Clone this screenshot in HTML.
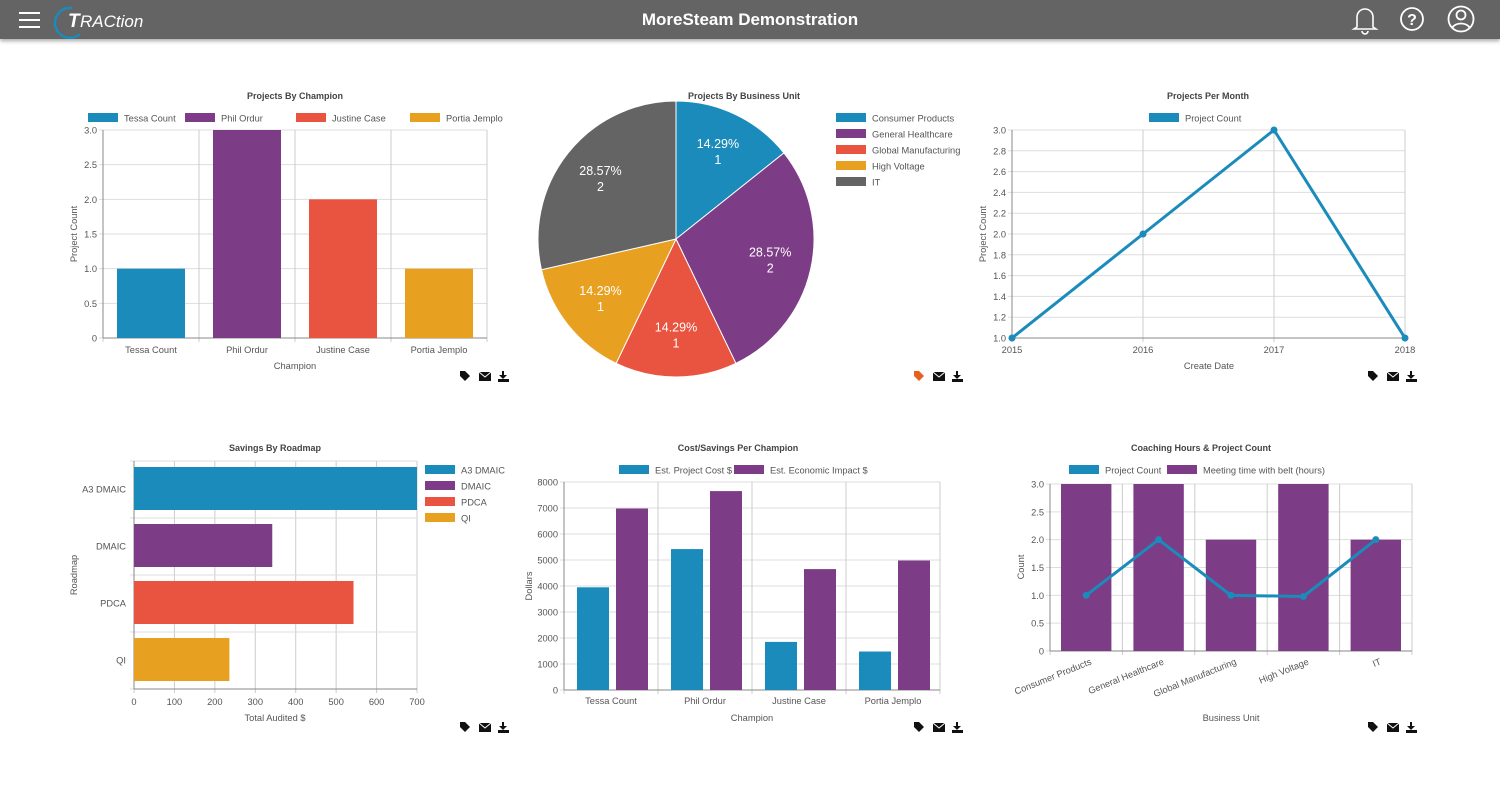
<!DOCTYPE html>
<html><head><meta charset="utf-8"><style>
body{margin:0;width:1500px;height:791px;overflow:hidden;background:#fff;font-family:"Liberation Sans",sans-serif}
#hdr{position:absolute;left:0;top:0;width:1500px;height:39px;background:#646464;box-shadow:0 2px 4px rgba(0,0,0,.35)}
svg text{font-family:"Liberation Sans",sans-serif}
</style></head><body>
<div id="hdr">
<svg width="1500" height="39" style="position:absolute;left:0;top:0">
<g stroke="#fff" stroke-width="2"><line x1="19" y1="13" x2="40" y2="13"/><line x1="19" y1="20" x2="40" y2="20"/><line x1="19" y1="27" x2="40" y2="27"/></g>
<g><path d="M72 8 A15 15 0 1 0 80 34" fill="none" stroke="#1a8bba" stroke-width="2.5"/><text x="68" y="27" font-size="19" font-style="italic" font-weight="bold" fill="#fff">T</text><text x="80" y="27" font-size="17" font-style="italic" fill="#fff">RACtion</text></g>
<text x="750" y="25" text-anchor="middle" font-size="17" font-weight="bold" fill="#fff">MoreSteam Demonstration</text>
<g fill="none" stroke="#fff" stroke-width="1.6"><path d="M1357 27 L1357 17 A8 8 0 0 1 1373 17 L1373 27 L1376 29 L1354 29 Z"/><path d="M1362 31 A3 3 0 0 0 1368 31"/></g>
<g><circle cx="1412" cy="19" r="11" fill="none" stroke="#fff" stroke-width="1.8"/><text x="1412" y="25" text-anchor="middle" font-size="16" font-weight="bold" fill="#fff">?</text></g>
<g fill="none" stroke="#fff" stroke-width="1.8"><circle cx="1461" cy="19" r="12.5"/><circle cx="1461" cy="15" r="4.5"/><path d="M1452 28 A10 8 0 0 1 1470 28"/></g>
</svg></div>
<svg id="main" width="1500" height="791" style="position:absolute;left:0;top:0;z-index:-1"></svg>
<script>
const C={blue:'#1a8bba',purple:'#7d3c86',red:'#e95440',orange:'#e8a020',gray:'#646464'};
// Chart 1
const c1Cats=['Tessa Count','Phil Ordur','Justine Case','Portia Jemplo'];
const c1Vals=[1,3,2,1];
const c1Ticks=[0,0.5,1.0,1.5,2.0,2.5,3.0];
// Chart 2
const c2Cats=['Consumer Products','General Healthcare','Global Manufacturing','High Voltage','IT'];
const c2Vals=[1,2,1,1,2];
// Chart 3
const c3Cats=['2015','2016','2017','2018'];
const c3Vals=[1,2,3,1];
const c3Ticks=[1.0,1.2,1.4,1.6,1.8,2.0,2.2,2.4,2.6,2.8,3.0];
// Chart 4
const c4Cats=['A3 DMAIC','DMAIC','PDCA','QI'];
const c4Vals=[700,342,543,236];
const c4Ticks=[0,100,200,300,400,500,600,700];
// Chart 5
const c5Cats=['Tessa Count','Phil Ordur','Justine Case','Portia Jemplo'];
const c5Cost=[3950,5420,1850,1480];
const c5Impact=[6980,7650,4650,4980];
const c5Ticks=[0,1000,2000,3000,4000,5000,6000,7000,8000];
// Chart 6
const c6Cats=['Consumer Products','General Healthcare','Global Manufacturing','High Voltage','IT'];
const c6Hours=[3,3,2,3,2];
const c6Count=[1,2,1,0.98,2];
const c6Ticks=[0,0.5,1.0,1.5,2.0,2.5,3.0];

const S=document.getElementById('main');const NS='http://www.w3.org/2000/svg';
function el(t,a,p){const e=document.createElementNS(NS,t);for(const k in a)e.setAttribute(k,a[k]);(p||S).appendChild(e);return e;}
function tx(x,y,s,a){const e=el('text',Object.assign({x:x,y:y,'font-size':9.3,fill:'#555'},a||{}));e.textContent=s;return e;}
function fmt(v,d){return v===0?'0':v.toFixed(d);}
function icons(x,y,tagCol){
 const g=el('g',{});
 const t=el('path',{d:`M${x} ${y-5} h5 l5 5 l-5 5 l-5 -5 z`,fill:tagCol||'#111'},g);
 const m=el('g',{},g);
 el('rect',{x:x+19,y:y-4,width:12,height:9,fill:'#111'},m);el('path',{d:`M${x+19} ${y-4} l6 5 l6 -5`,stroke:'#fff',fill:'none'},m);
 const dl=el('path',{d:`M${x+42} ${y-5} h2 v4 h3 l-4 4 l-4 -4 h3 z M${x+38} ${y+3} h11 v3 h-11 z`,fill:'#111'},g);
}
function legendH(items,y){items.forEach(it=>{const r=el('rect',{x:it.x,y:y-5,width:30,height:9,fill:it.c});const t=tx(it.x+36,y+3.5,it.t);});}
function legendV(names,cols,x,y){names.forEach((n,i)=>{const r=el('rect',{x:x,y:y+i*16-5,width:30,height:9,fill:cols[i]});const t=tx(x+36,y+i*16+3.5,n);});}
function title(x,y,s){const t=tx(x,y,s,{'text-anchor':'middle','font-weight':'bold','fill':'#444','font-size':9});}
function vgrid(x0,x1,y0,y1,ticks,n,dec){
 const ys=v=>y1-(v-ticks[0])/(ticks[ticks.length-1]-ticks[0])*(y1-y0);
 ticks.forEach(v=>{el('line',{x1:x0-4,x2:x1,y1:ys(v),y2:ys(v),stroke:'#ddd'});const t=tx(x0-6,ys(v)+3.5,fmt(v,dec),{'text-anchor':'end'});});
 const w=(x1-x0)/n;for(let i=0;i<=n;i++)el('line',{x1:x0+i*w,x2:x0+i*w,y1:y0,y2:y1+4,stroke:'#ccc'});
 el('line',{x1:x0,x2:x0,y1:y0,y2:y1,stroke:'#888'});el('line',{x1:x0,x2:x1,y1:y1,y2:y1,stroke:'#888'});
 return ys;
}
// ---- Chart 1
title(295,99,'Projects By Champion');
legendH([{x:88,c:C.blue,t:'Tessa Count'},{x:185,c:C.purple,t:'Phil Ordur'},{x:296,c:C.red,t:'Justine Case'},{x:410,c:C.orange,t:'Portia Jemplo'}],118);
(function(){const x0=103,x1=487,y0=130,y1=338;const ys=vgrid(x0,x1,y0,y1,c1Ticks,4,1);const w=(x1-x0)/4;const cols=[C.blue,C.purple,C.red,C.orange];
c1Vals.forEach((v,i)=>{const r=el('rect',{x:x0+i*w+14,y:ys(v),width:w-28,height:y1-ys(v),fill:cols[i]});
const t=tx(x0+i*w+w/2,353,c1Cats[i],{'text-anchor':'middle'});});
const a=tx(295,369,'Champion',{'text-anchor':'middle'});
const b=tx(0,0,'Project Count',{'text-anchor':'middle',transform:'translate(77,234) rotate(-90)'});})();
icons(460,376);
// ---- Chart 2
title(744,99,'Projects By Business Unit');
legendV(c2Cats,[C.blue,C.purple,C.red,C.orange,C.gray],836,118);
(function(){const cx=676,cy=239,r=138;const tot=c2Vals.reduce((a,b)=>a+b,0);const cols=[C.blue,C.purple,C.red,C.orange,C.gray];let a0=-Math.PI/2;
c2Vals.forEach((v,i)=>{const a1=a0+v/tot*2*Math.PI;const big=(a1-a0)>Math.PI?1:0;
const p=el('path',{d:`M${cx} ${cy} L${cx+r*Math.cos(a0)} ${cy+r*Math.sin(a0)} A${r} ${r} 0 ${big} 1 ${cx+r*Math.cos(a1)} ${cy+r*Math.sin(a1)} Z`,fill:cols[i],stroke:'#fff','stroke-width':1});
const am=(a0+a1)/2,lr=r*0.7;const lx=cx+lr*Math.cos(am),ly=cy+lr*Math.sin(am);
const t1=tx(lx,ly-4,(v/tot*100).toFixed(2)+'%',{'text-anchor':'middle',fill:'#fff','font-size':12.5});
const t2=tx(lx,ly+12,String(v),{'text-anchor':'middle',fill:'#fff','font-size':12.5});a0=a1;});})();
icons(914,376,'#e8601c');
// ---- Chart 3
title(1208,99,'Projects Per Month');
legendH([{x:1149,c:C.blue,t:'Project Count'}],118);
(function(){const x0=1012,x1=1405,y0=130,y1=338;const ys=vgrid(x0,x1,y0,y1,c3Ticks,3,1);const w=(x1-x0)/3;const xs=i=>x0+i*w;
const l=el('polyline',{points:c3Vals.map((v,i)=>xs(i)+','+ys(v)).join(' '),fill:'none',stroke:C.blue,'stroke-width':3});
c3Vals.forEach((v,i)=>{const c=el('circle',{cx:xs(i),cy:ys(v),r:3.5,fill:C.blue});
const t=tx(xs(i),353,c3Cats[i],{'text-anchor':'middle'});});
const a=tx(1209,369,'Create Date',{'text-anchor':'middle'});
const b=tx(0,0,'Project Count',{'text-anchor':'middle',transform:'translate(986,234) rotate(-90)'});})();
icons(1368,376);
// ---- Chart 4
title(275,451,'Savings By Roadmap');
legendV(c4Cats,[C.blue,C.purple,C.red,C.orange],425,470);
(function(){const x0=134,x1=417,y0=461,y1=689;const mx=c4Ticks[c4Ticks.length-1];const xs=v=>x0+v/mx*(x1-x0);const h=(y1-y0)/4;const cols=[C.blue,C.purple,C.red,C.orange];
c4Ticks.forEach(v=>{el('line',{x1:xs(v),x2:xs(v),y1:y0,y2:y1+4,stroke:'#ccc'});const t=tx(xs(v),705,String(v),{'text-anchor':'middle'});});
for(let i=0;i<=4;i++)el('line',{x1:x0-4,x2:x1,y1:y0+i*h,y2:y0+i*h,stroke:'#ddd'});
el('line',{x1:x0,x2:x0,y1:y0,y2:y1,stroke:'#888'});el('line',{x1:x0,x2:x1,y1:y1,y2:y1,stroke:'#888'});
c4Vals.forEach((v,i)=>{const r=el('rect',{x:x0,y:y0+i*h+6,width:xs(v)-x0,height:h-14,fill:cols[i]});
const t=tx(x0-8,y0+i*h+h/2+3,c4Cats[i],{'text-anchor':'end'});});
const a=tx(275,721,'Total Audited $',{'text-anchor':'middle'});
const b=tx(0,0,'Roadmap',{'text-anchor':'middle',transform:'translate(77,575) rotate(-90)'});})();
icons(460,727);
// ---- Chart 5
title(738,451,'Cost/Savings Per Champion');
legendH([{x:619,c:C.blue,t:'Est. Project Cost $'},{x:734,c:C.purple,t:'Est. Economic Impact $'}],470);
(function(){const x0=564,x1=940,y0=482,y1=690;const ys=vgrid(x0,x1,y0,y1,c5Ticks,4,0);const w=(x1-x0)/4;
c5Cats.forEach((c,i)=>{const b1=el('rect',{x:x0+i*w+13,y:ys(c5Cost[i]),width:32,height:y1-ys(c5Cost[i]),fill:C.blue});
const b2=el('rect',{x:x0+i*w+52,y:ys(c5Impact[i]),width:32,height:y1-ys(c5Impact[i]),fill:C.purple});
const t=tx(x0+i*w+w/2,704,c,{'text-anchor':'middle'});});
const a=tx(752,721,'Champion',{'text-anchor':'middle'});
const b=tx(0,0,'Dollars',{'text-anchor':'middle',transform:'translate(532,586) rotate(-90)'});})();
icons(914,727);
// ---- Chart 6
title(1201,451,'Coaching Hours & Project Count');
legendH([{x:1069,c:C.blue,t:'Project Count'},{x:1167,c:C.purple,t:'Meeting time with belt (hours)'}],470);
(function(){const x0=1050,x1=1412,y0=484,y1=651;const ys=vgrid(x0,x1,y0,y1,c6Ticks,5,1);const w=(x1-x0)/5;const xc=i=>x0+i*w+w/2;
c6Hours.forEach((v,i)=>{const r=el('rect',{x:x0+i*w+11,y:ys(v),width:w-22,height:y1-ys(v),fill:C.purple});
const t=tx(xc(i)+6,664,c6Cats[i],{'text-anchor':'end',transform:`rotate(-22 ${xc(i)+6} 664)`});});
const l=el('polyline',{points:c6Count.map((v,i)=>xc(i)+','+ys(v)).join(' '),fill:'none',stroke:C.blue,'stroke-width':3});
c6Count.forEach((v,i)=>{const c=el('circle',{cx:xc(i),cy:ys(v),r:3.5,fill:C.blue});});
const a=tx(1231,721,'Business Unit',{'text-anchor':'middle'});
const b=tx(0,0,'Count',{'text-anchor':'middle',transform:'translate(1024,567) rotate(-90)'});})();
icons(1368,727);
</script>
</body></html>
